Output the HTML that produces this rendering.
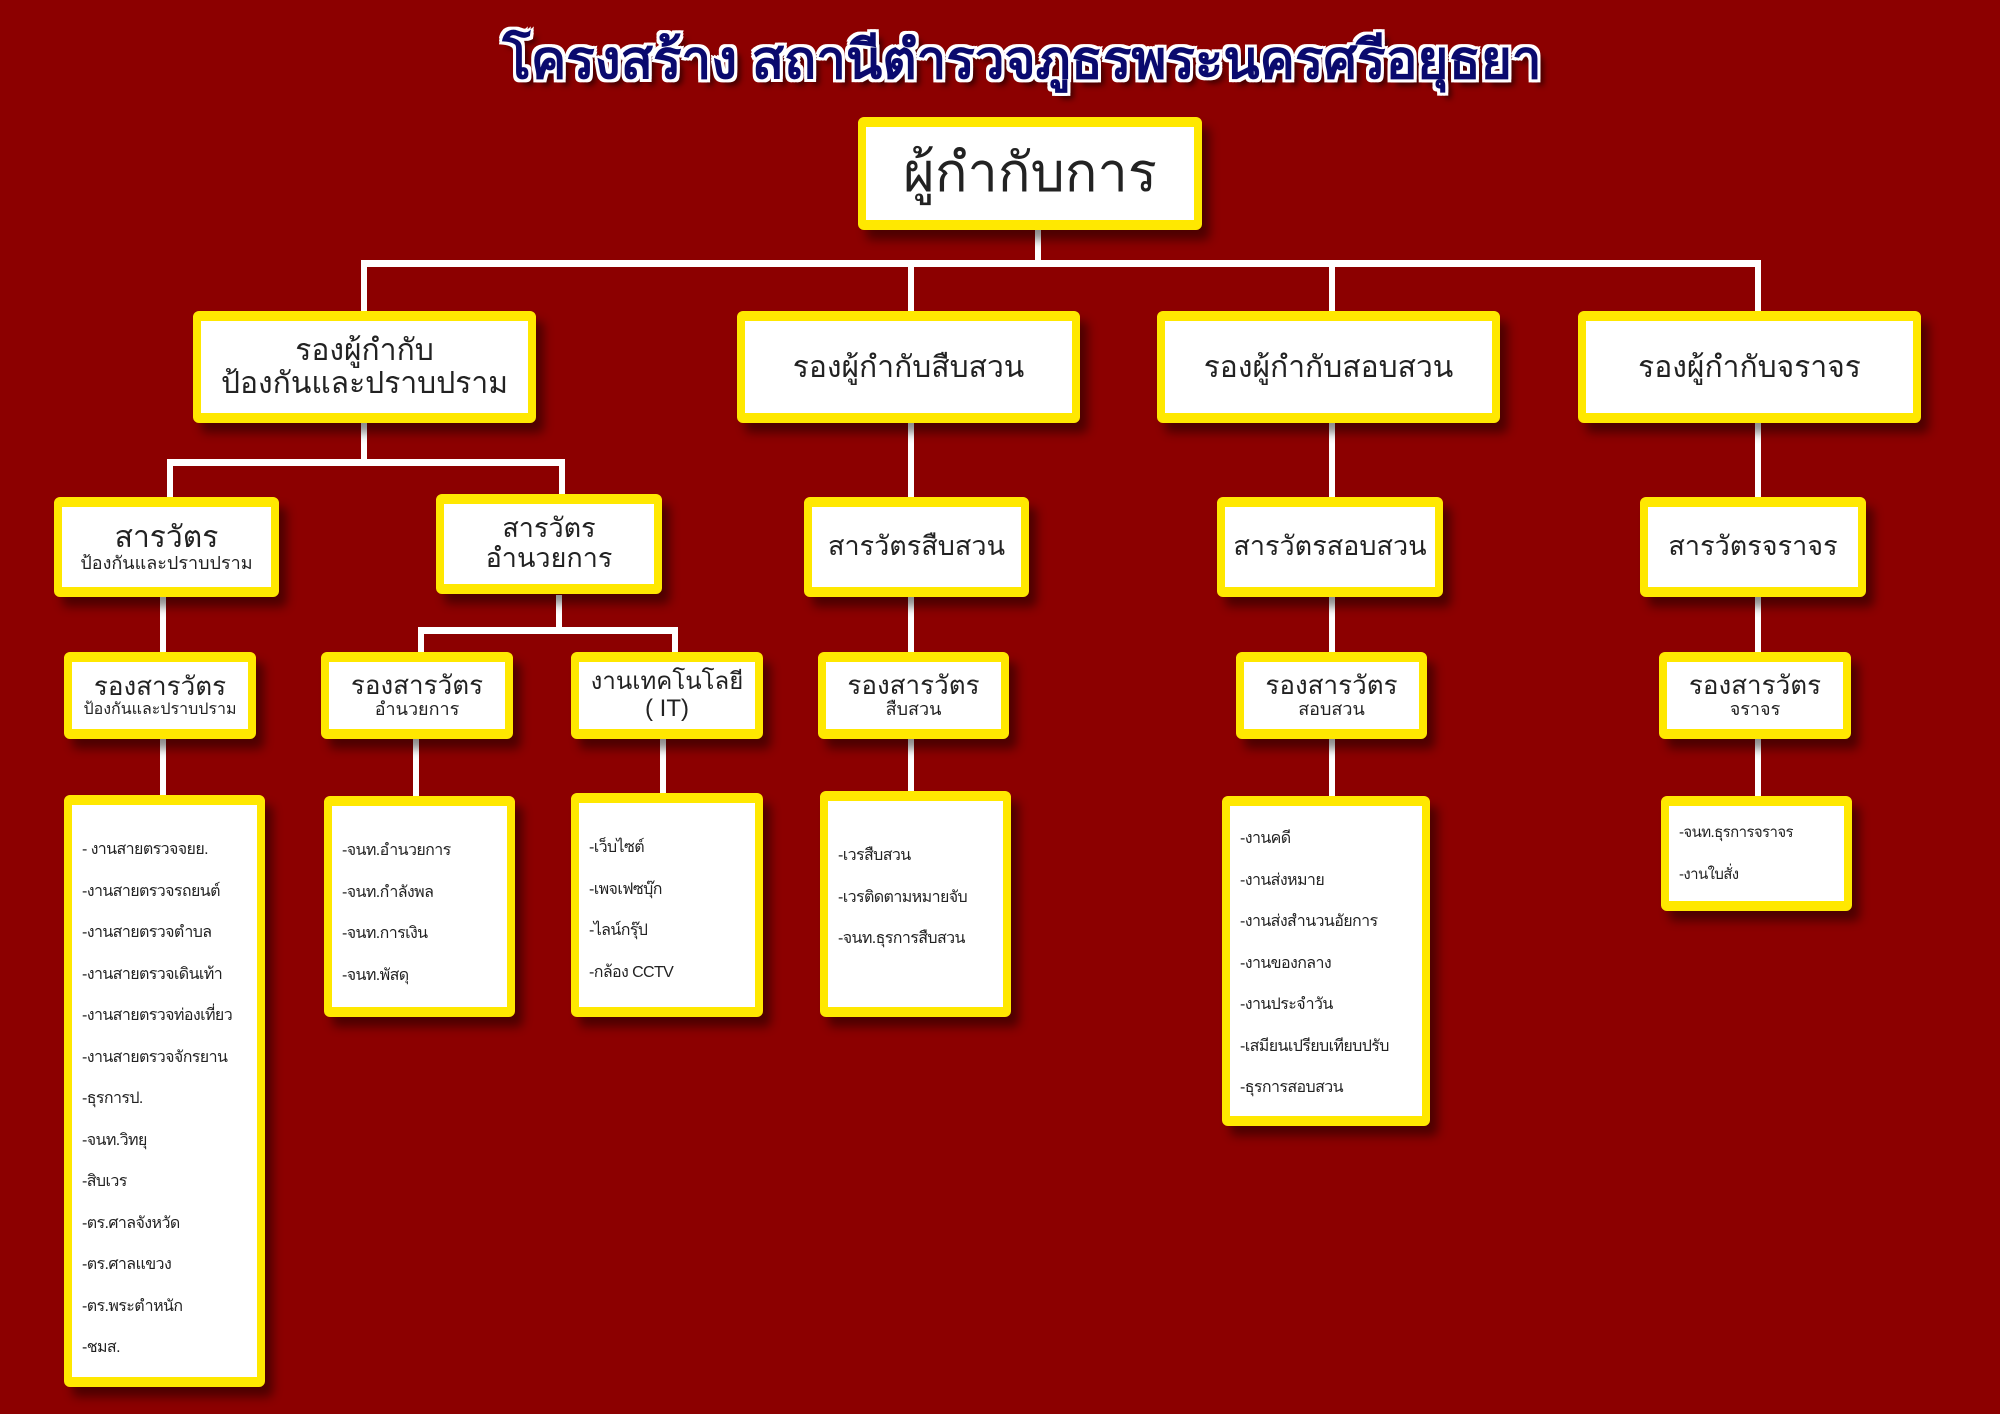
<!DOCTYPE html>
<html><head><meta charset="utf-8"><style>
body{margin:0;width:2000px;height:1414px;background:#8c0000;position:relative;overflow:hidden;font-family:"Liberation Sans","DejaVu Sans",sans-serif;}
.t{position:absolute;left:22px;width:2000px;top:18px;text-align:center;font-size:53px;font-weight:bold;color:#0a0a6e;text-shadow:-3px -3px 0 #fff,3px -3px 0 #fff,-3px 3px 0 #fff,3px 3px 0 #fff,0 3px 0 #fff,0 -3px 0 #fff,3px 0 0 #fff,-3px 0 0 #fff,6px 6px 6px rgba(0,0,0,.6);}
.b{position:absolute;box-sizing:border-box;background:#fff;border:8px solid #ffe800;border-top-width:10px;border-bottom-width:10px;border-radius:6px;box-shadow:8px 10px 10px rgba(0,0,0,.45);display:flex;flex-direction:column;justify-content:center;align-items:center;text-align:center;color:#222;line-height:1.1;white-space:nowrap;}
.l{position:absolute;background:#fff;}
.s{font-size:18px;}
.list{justify-content:flex-start;align-items:flex-start;text-align:left;padding:24px 0 0 10px;font-size:16px;letter-spacing:-0.6px;line-height:41.5px;overflow:hidden;}
</style></head><body>
<div class="t">โครงสร้าง สถานีตำรวจภูธรพระนครศรีอยุธยา</div>

<div class="l" style="left:1035px;top:228px;width:6px;height:38px"></div>
<div class="l" style="left:361px;top:260px;width:1400px;height:7px"></div>
<div class="l" style="left:361px;top:260px;width:6px;height:54px"></div>
<div class="l" style="left:908px;top:260px;width:6px;height:54px"></div>
<div class="l" style="left:1329px;top:260px;width:6px;height:54px"></div>
<div class="l" style="left:1755px;top:260px;width:6px;height:54px"></div>

<div class="l" style="left:361px;top:420px;width:6px;height:44px"></div>
<div class="l" style="left:167px;top:459px;width:398px;height:7px"></div>
<div class="l" style="left:167px;top:459px;width:6px;height:42px"></div>
<div class="l" style="left:559px;top:459px;width:6px;height:42px"></div>
<div class="l" style="left:908px;top:420px;width:6px;height:80px"></div>
<div class="l" style="left:1329px;top:420px;width:6px;height:80px"></div>
<div class="l" style="left:1755px;top:420px;width:6px;height:80px"></div>

<div class="l" style="left:160px;top:595px;width:6px;height:60px"></div>
<div class="l" style="left:556px;top:595px;width:6px;height:36px"></div>
<div class="l" style="left:418px;top:627px;width:260px;height:7px"></div>
<div class="l" style="left:418px;top:627px;width:6px;height:28px"></div>
<div class="l" style="left:672px;top:627px;width:6px;height:28px"></div>
<div class="l" style="left:908px;top:595px;width:6px;height:60px"></div>
<div class="l" style="left:1329px;top:595px;width:6px;height:60px"></div>
<div class="l" style="left:1755px;top:595px;width:6px;height:60px"></div>

<div class="l" style="left:160px;top:737px;width:6px;height:62px"></div>
<div class="l" style="left:413px;top:737px;width:6px;height:62px"></div>
<div class="l" style="left:660px;top:737px;width:6px;height:62px"></div>
<div class="l" style="left:908px;top:737px;width:6px;height:58px"></div>
<div class="l" style="left:1329px;top:737px;width:6px;height:62px"></div>
<div class="l" style="left:1755px;top:737px;width:6px;height:62px"></div>

<div class="b" style="left:858px;top:117px;width:344px;height:113px;font-size:54px">ผู้กำกับการ</div>

<div class="b" style="left:193px;top:311px;width:343px;height:112px;font-size:30px">รองผู้กำกับ<br>ป้องกันและปราบปราม</div>
<div class="b" style="left:737px;top:311px;width:343px;height:112px;font-size:30px">รองผู้กำกับสืบสวน</div>
<div class="b" style="left:1157px;top:311px;width:343px;height:112px;font-size:30px">รองผู้กำกับสอบสวน</div>
<div class="b" style="left:1578px;top:311px;width:343px;height:112px;font-size:30px">รองผู้กำกับจราจร</div>

<div class="b" style="left:54px;top:497px;width:225px;height:100px;font-size:30px">สารวัตร<span class="s">ป้องกันและปราบปราม</span></div>
<div class="b" style="left:436px;top:494px;width:226px;height:100px;font-size:27px">สารวัตร<br>อำนวยการ</div>
<div class="b" style="left:804px;top:497px;width:225px;height:100px;font-size:27px">สารวัตรสืบสวน</div>
<div class="b" style="left:1217px;top:497px;width:226px;height:100px;font-size:27px">สารวัตรสอบสวน</div>
<div class="b" style="left:1640px;top:497px;width:226px;height:100px;font-size:27px">สารวัตรจราจร</div>

<div class="b" style="left:64px;top:652px;width:192px;height:87px;font-size:26px">รองสารวัตร<span class="s" style="font-size:16px">ป้องกันและปราบปราม</span></div>
<div class="b" style="left:321px;top:652px;width:192px;height:87px;font-size:26px">รองสารวัตร<span class="s">อำนวยการ</span></div>
<div class="b" style="left:571px;top:652px;width:192px;height:87px;font-size:24px">งานเทคโนโลยี<br>( IT)</div>
<div class="b" style="left:818px;top:652px;width:191px;height:87px;font-size:26px">รองสารวัตร<span class="s">สืบสวน</span></div>
<div class="b" style="left:1236px;top:652px;width:191px;height:87px;font-size:26px">รองสารวัตร<span class="s">สอบสวน</span></div>
<div class="b" style="left:1659px;top:652px;width:192px;height:87px;font-size:26px">รองสารวัตร<span class="s">จราจร</span></div>

<div class="b list" style="left:64px;top:795px;width:201px;height:592px">- งานสายตรวจจยย.<br>-งานสายตรวจรถยนต์<br>-งานสายตรวจตำบล<br>-งานสายตรวจเดินเท้า<br>-งานสายตรวจท่องเที่ยว<br>-งานสายตรวจจักรยาน<br>-ธุรการป.<br>-จนท.วิทยุ<br>-สิบเวร<br>-ตร.ศาลจังหวัด<br>-ตร.ศาลแขวง<br>-ตร.พระตำหนัก<br>-ชมส.</div>
<div class="b list" style="left:324px;top:796px;width:191px;height:221px">-จนท.อำนวยการ<br>-จนท.กำลังพล<br>-จนท.การเงิน<br>-จนท.พัสดุ</div>
<div class="b list" style="left:571px;top:793px;width:192px;height:224px">-เว็บไซต์<br>-เพจเฟซบุ๊ก<br>-ไลน์กรุ๊ป<br>-กล้อง CCTV</div>
<div class="b list" style="left:820px;top:791px;width:191px;height:226px;padding-top:34px">-เวรสืบสวน<br>-เวรติดตามหมายจับ<br>-จนท.ธุรการสืบสวน</div>
<div class="b list" style="left:1222px;top:796px;width:208px;height:330px;padding-top:12px">-งานคดี<br>-งานส่งหมาย<br>-งานส่งสำนวนอัยการ<br>-งานของกลาง<br>-งานประจำวัน<br>-เสมียนเปรียบเทียบปรับ<br>-ธุรการสอบสวน</div>
<div class="b list" style="left:1661px;top:796px;width:191px;height:115px;padding-top:6px;font-size:15px">-จนท.ธุรการจราจร<br>-งานใบสั่ง</div>
</body></html>
